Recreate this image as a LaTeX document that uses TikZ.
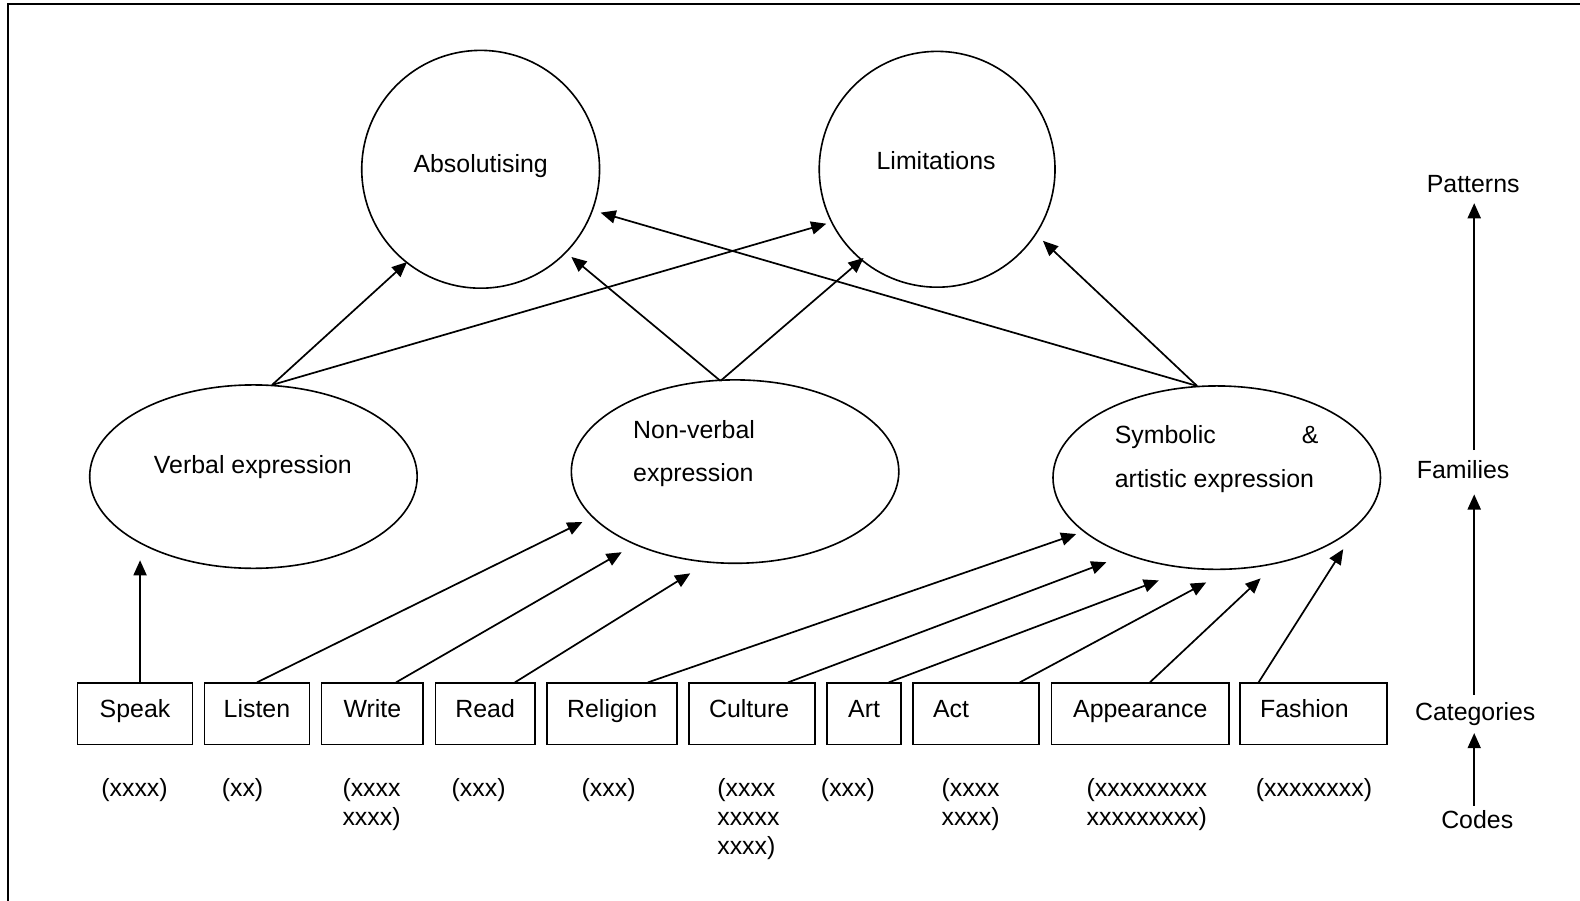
\documentclass[tikz,border=0pt]{standalone}
\usepackage{fontspec}
\setmainfont{Liberation Sans}
\usetikzlibrary{arrows.meta,shapes.geometric,calc}
\begin{document}
\begin{tikzpicture}[x=0.5pt,y=-0.5pt,
  every node/.style={font=\fontsize{12.35}{14.5}\selectfont},
  catbox/.style={draw, line width=0.8pt, rectangle, minimum height=30.5pt, inner sep=0pt, text height=9pt, text depth=5.5pt},
  fam/.style={draw, ellipse, line width=0.8pt, minimum width=162.5pt, minimum height=91pt, inner sep=0pt},
  pat/.style={draw, circle, line width=0.8pt, inner sep=0pt},
  arr/.style={line width=0.85pt, -{Triangle[length=7.5pt,width=6.5pt]}},
  txt/.style={inner sep=0pt},
  codetxt/.style={inner sep=0pt, align=left, anchor=north west}]
\useasboundingbox (0,0) rectangle (1568,894);
% frame
\draw[line width=1.1pt] (8,900) -- (8,4) -- (1575,4);

% patterns
\node[pat, minimum size=118pt] (abs) at (477,168) {};
\node[pat, minimum size=117pt] (lim) at (930,168) {};
\node[txt, anchor=base] (abst) at (477,171) {Absolutising};
\node[txt, anchor=base] (limt) at (929,168) {Limitations};

% families
\node[fam] (verbal) at (251.5,473) {};
\node[fam] (nonverbal) at (729.5,468) {};
\node[fam] (symbolic) at (1207.5,474) {};
\node[txt, anchor=base] (verbalt) at (251,470) {Verbal expression};
\node[txt, anchor=north west, align=left, font=\fontsize{12.35}{21.5}\selectfont] (nonverbalt) at (628,417) {Non-verbal\\expression};
\node[txt, anchor=north west, align=left, font=\fontsize{12.35}{21.5}\selectfont] (symbolict) at (1106,422) {\hbox to 101pt{Symbolic\hfill\&}\\artistic expression};

% categories
\node[catbox, minimum width=57pt] (speak) at (134,708.5) {Speak};
\node[catbox, minimum width=52pt] (listen) at (255,708.5) {Listen};
\node[catbox, minimum width=50.5pt] (write) at (369.5,708.5) {Write};
\node[catbox, minimum width=49.5pt] (read) at (481.5,708.5) {Read};
\node[catbox, minimum width=64.5pt] (religion) at (607.5,708.5) {Religion};
\node[catbox, minimum width=62.5pt] (culture) at (746.5,708.5) {\hspace*{-1.5pt}Culture\hspace*{1.5pt}};
\node[catbox, minimum width=36.5pt] (art) at (857.5,708.5) {Art};
\node[catbox, inner xsep=10pt, text width=42.5pt, align=left] (act) at (968.5,708.5) {Act};
\node[catbox, minimum width=88pt] (appear) at (1131.6,708.5) {Appearance};
\node[catbox, inner xsep=10pt, text width=53pt, align=left] (fashion) at (1303.5,708.5) {Fashion};

% codes
\node[txt, anchor=base] (c1) at (133.5,790) {(xxxx)};
\node[txt, anchor=base] (c2) at (240.7,790) {(xx)};
\node[codetxt] (c3) at (339.5,772) {(xxxx\\xxxx)};
\node[txt, anchor=base] (c4) at (475,790) {(xxx)};
\node[txt, anchor=base] (c5) at (604,790) {(xxx)};
\node[codetxt] (c6) at (711.5,772) {(xxxx\\xxxxx\\xxxx)};
\node[txt, anchor=base] (c7) at (841.5,790) {(xxx)};
\node[codetxt] (c8) at (934,772) {(xxxx\\xxxx)};
\node[codetxt] (c9) at (1078,772) {(xxxxxxxxx\\xxxxxxxxx)};
\node[txt, anchor=base] (c10) at (1304,790) {(xxxxxxxx)};

% level labels
\node[txt, anchor=base] (patterns) at (1462,191) {Patterns};
\node[txt, anchor=base] (families) at (1452,475) {Families};
\node[txt, anchor=base] (categories) at (1464,715) {Categories};
\node[txt, anchor=base] (codes) at (1466,822) {Codes};

\draw[arr, shorten <=2pt, shorten >=3.5pt] ([xshift=-1.5pt]codes.north) -- ([xshift=-1.5pt]codes.north |- categories.south);
\draw[arr, shorten <=3.5pt, shorten >=7.5pt] ([xshift=-0.5pt]categories.north) -- ([xshift=-0.5pt]categories.north |- families.south);
\draw[arr, shorten <=5pt, shorten >=5pt] ([xshift=-0.5pt]categories.north |- families.north) -- ([xshift=-0.5pt]categories.north |- patterns.south);

% categories -> families
\draw[arr] ($(speak.north)+(5,0)$) -- ($(verbal.center)+(-112.5,83)$);
\draw[arr] (listen.north) -- ($(nonverbal.center)+(-151.5,50)$);
\draw[arr] ($(write.north)+(23.5,0)$) -- ($(nonverbal.center)+(-112.5,80)$);
\draw[arr] ($(read.north)+(29.5,0)$) -- ($(nonverbal.center)+(-44.5,101)$);
\draw[arr] ($(religion.north)+(35.5,0)$) -- ($(symbolic.center)+(-139.5,56)$);
\draw[arr] ($(culture.north)+(35.5,0)$) -- ($(symbolic.center)+(-109.5,84)$);
\draw[arr] ($(art.north)+(24.5,0)$) -- ($(symbolic.center)+(-57.5,102)$);
\draw[arr] ($(act.north)+(43.5,0)$) -- ($(symbolic.center)+(-10.5,104)$);
\draw[arr] ($(appear.north)+(9.5,0)$) -- ($(symbolic.center)+(43.5,100)$);
\draw[arr] ($(fashion.north)+(-54.5,0)$) -- ($(symbolic.center)+(125.5,71)$);

% families -> patterns
\draw[arr] ($(verbal.center)+(18.5,-91)$) -- ($(abs.center)+(-73,92)$);
\draw[arr] ($(verbal.center)+(18.5,-91)$) -- ($(lim.center)+(-110,54)$);
\draw[arr] ($(nonverbal.center)+(-14.5,-90)$) -- ($(abs.center)+(90,87)$);
\draw[arr] ($(nonverbal.center)+(-14.5,-90)$) -- ($(lim.center)+(-73,88)$);
\draw[arr] ($(symbolic.center)+(-19.5,-91)$) -- ($(abs.center)+(119,43)$);
\draw[arr] ($(symbolic.center)+(-19.5,-91)$) -- ($(lim.center)+(105,71)$);
\end{tikzpicture}
\end{document}
